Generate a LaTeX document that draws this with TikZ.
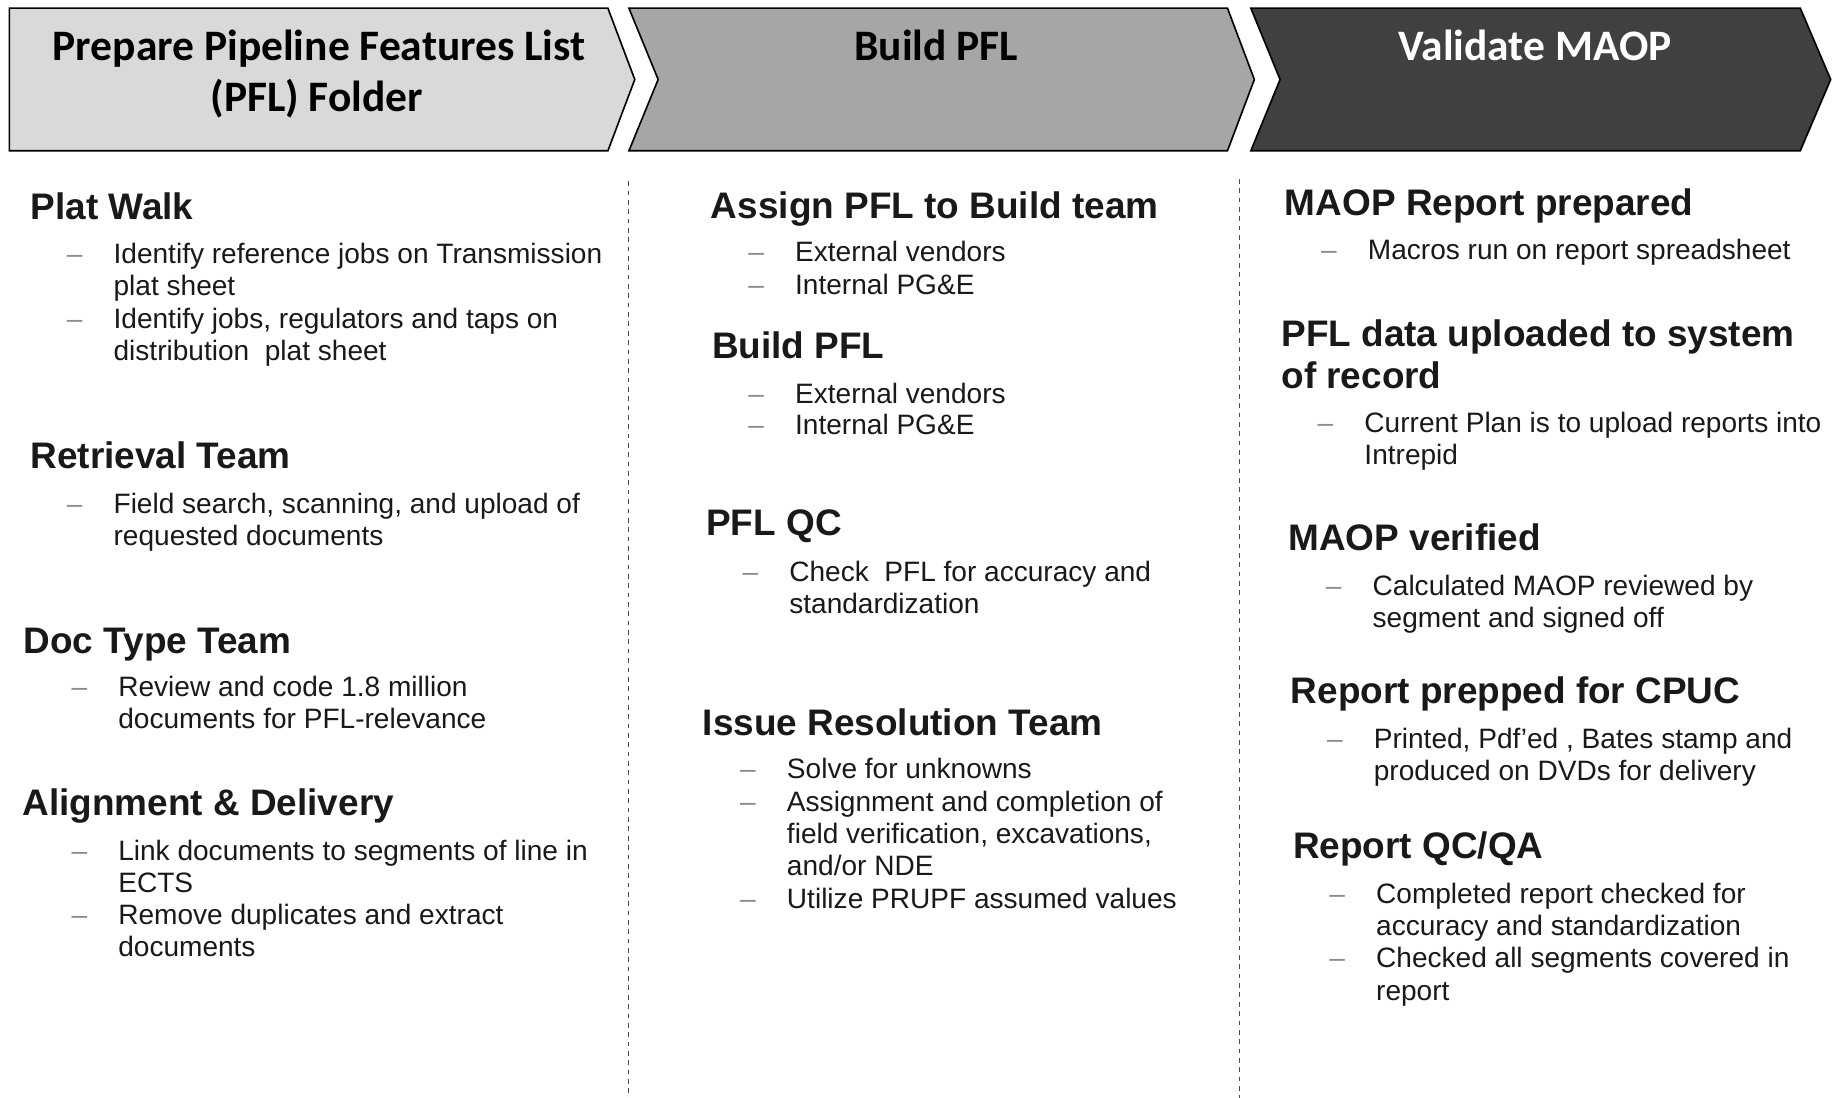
\documentclass[tikz,border=0pt]{standalone}
\usepackage{fontspec}
\setmainfont{Liberation Sans}
\newfontfamily\hdrfont{Carlito}
\newcommand\ml[1]{\begin{tabular}[t]{@{}l@{}}#1\end{tabular}}
\begin{document}
\begin{tikzpicture}[x=1pt,y=-1pt,
  chev/.style={draw=black, line width=1.4pt, line join=miter},
  hdr/.style={anchor=base, inner sep=0, font=\hdrfont\bfseries\fontsize{37.2}{43}\selectfont},
  head/.style={anchor=base west, inner sep=0, font=\bfseries\fontsize{31.6}{36}\selectfont, text=black!90},
  body/.style={anchor=base west, inner sep=0, font=\fontsize{24}{27.6}\selectfont, text=black!90},
  dashmark/.style={anchor=base west, inner sep=0, font=\fontsize{24}{27.6}\selectfont, text=black!45},
  sep/.style={draw=black!70, line width=0.9pt, dash pattern=on 4pt off 4pt}]
\useasboundingbox (0,0) rectangle (1568,939);
\newcommand\bitem[4]{%
  \node[dashmark] (#1d) at (#2-40,#3) {\textendash};
  \node[body] (#1) at (#2,#3) {\ml{#4}};}
% chevrons
\draw[chev, fill=black!15] (8,7) -- (520,7) -- (543,68) -- (520,129) -- (8,129) -- cycle;
\draw[chev, fill=black!35] (538,7) -- (1050,7) -- (1073,68) -- (1050,129) -- (538,129) -- (563,68) -- cycle;
\draw[chev, fill=black!75] (1070,7) -- (1540,7) -- (1566,68) -- (1540,129) -- (1070,129) -- (1095,68) -- cycle;
\node[hdr] (h1a) at (273,52) {Prepare Pipeline Features List};
\node[hdr] (h1b) at (271,95) {(PFL) Folder};
\node[hdr] (h2) at (801,52) {Build PFL};
\node[hdr, text=white] (h3) at (1313,52) {Validate MAOP};
% separators
\coordinate (s1t) at (538,155); \coordinate (s1b) at (538,939);
\coordinate (s2t) at (1060,153); \coordinate (s2b) at (1060,939);
\draw[sep] (s1t) -- (s1b);
\draw[sep] (s2t) -- (s2b);
% column 1
\node[head] (pw) at (26,188) {Plat Walk};
\bitem{pw1}{97}{225}{Identify reference jobs on Transmission\\plat sheet}
\bitem{pw2}{97}{281}{Identify jobs, regulators and taps on\\distribution\ \ plat sheet}
\node[head] (rt) at (26,401) {Retrieval Team};
\bitem{rt1}{97}{439}{Field search, scanning, and upload of\\requested documents}
\node[head] (dt) at (20,559) {Doc Type Team};
\bitem{dt1}{101}{596}{Review and code 1.8 million\\documents for PFL-relevance}
\node[head] (ad) at (19,698) {Alignment \& Delivery};
\bitem{ad1}{101}{736}{Link documents to segments of line in\\ECTS}
\bitem{ad2}{101}{791}{Remove duplicates and extract\\documents}
% column 2
\node[head] (ap) at (608,187) {Assign PFL to Build team};
\bitem{ap1}{680}{224}{External vendors}
\bitem{ap2}{680}{252}{Internal PG\&E}
\node[head] (bp) at (609,307) {Build PFL};
\bitem{bp1}{680}{345}{External vendors}
\bitem{bp2}{680}{372}{Internal PG\&E}
\node[head] (qc) at (604,458) {PFL QC};
\bitem{qc1}{675}{497}{Check\ \ PFL for accuracy and\\standardization}
\node[head] (ir) at (601,629) {Issue Resolution Team};
\bitem{ir1}{673}{666}{Solve for unknowns}
\bitem{ir2}{673}{694}{Assignment and completion of\\field verification, excavations,\\and/or NDE}
\bitem{ir3}{673}{777}{Utilize PRUPF assumed values}
% column 3
\node[head] (mr) at (1099,184) {MAOP Report prepared};
\bitem{mr1}{1170}{222}{Macros run on report spreadsheet}
\node[head] (pd) at (1096,296) {\begin{tabular}[t]{@{}l@{}}PFL data uploaded to system\\of record\end{tabular}};
\bitem{pd1}{1167}{370}{Current Plan is to upload reports into\\Intrepid}
\node[head] (mv) at (1102,471) {MAOP verified};
\bitem{mv1}{1174}{509}{Calculated MAOP reviewed by\\segment and signed off}
\node[head] (rp) at (1104,602) {Report prepped for CPUC};
\bitem{rp1}{1175}{640}{Printed, Pdf’ed , Bates stamp and\\produced on DVDs for delivery}
\node[head] (rq) at (1106,734) {Report QC/QA};
\bitem{rq1}{1177}{773}{Completed report checked for\\accuracy and standardization}
\bitem{rq2}{1177}{828}{Checked all segments covered in\\report}
\end{tikzpicture}
\end{document}
